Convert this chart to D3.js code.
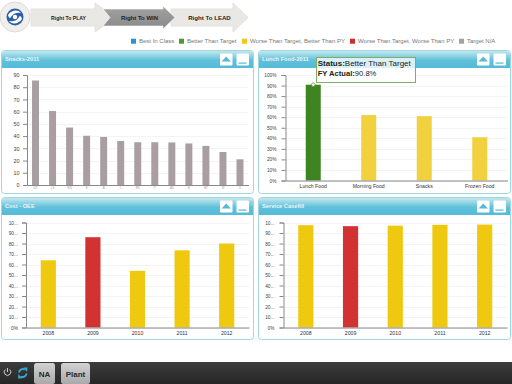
<!DOCTYPE html>
<html>
<head>
<meta charset="utf-8">
<script src="https://cdnjs.cloudflare.com/ajax/libs/d3/7.8.5/d3.min.js"></script>
<style>
html, body { margin: 0; padding: 0; background: #fff; overflow: hidden; }
text { font-family: "Liberation Sans", Arial, sans-serif; }
</style>
</head>
<body>
<script>
// chart values
var snackCats = ["GT", "LS", "WS", "E", "A", "I", "RS", "IT", "AS", "B", "MT", "W", "S"];
var snackVals = [85.5, 60.5, 47, 40.3, 39.3, 36, 35, 35, 34.8, 34, 32, 27, 21];
var snackTicks = [0, 10, 20, 30, 40, 50, 60, 70, 80, 90];
var lunchCats = ["Lunch Food", "Morning Food", "Snacks", "Frozen Food"];
var lunchVals = [90.8, 62, 61, 41];
var lunchColors = ["#3e8421", "#f2d13e", "#f2d13e", "#f2d13e"];
var pctTicks = [0, 10, 20, 30, 40, 50, 60, 70, 80, 90, 100];
var pctLabels = ["0%", "10%", "20%", "30%", "40%", "50%", "60%", "70%", "80%", "90%", "100%"];
var shortLabels = ["0%", "10...", "20...", "30...", "40...", "50...", "60...", "70...", "80...", "90...", "10..."];
var years = ["2008", "2009", "2010", "2011", "2012"];
var oeeVals = [64, 86, 54, 73.5, 80];
var caseVals = [97.5, 96.5, 97, 97.8, 98];
var yearColors = ["#efc90f", "#d13232", "#efc90f", "#efc90f", "#efc90f"];
var legendNames = ["Best In Class", "Better Than Target", "Worse Than Target, Better Than PY", "Worse Than Target, Worse Than PY", "Target N/A"];
var legendColors = ["#2f8fd8", "#4a9a2c", "#f0c814", "#d02c2c", "#a89fa2"];
var legendX = [131, 179, 242, 350, 459];
var steps = ["Right To PLAY", "Right To WIN", "Right To LEAD"];

var svg = d3.select("body").append("svg")
    .attr("width", 512).attr("height", 384)
    .style("display", "block");

var defs = svg.append("defs");
var headGrad = defs.append("linearGradient").attr("id", "head").attr("x2", 0).attr("y2", 1);
headGrad.append("stop").attr("offset", "0").attr("stop-color", "#c3e7ef");
headGrad.append("stop").attr("offset", "0.55").attr("stop-color", "#5fc0da");
headGrad.append("stop").attr("offset", "1").attr("stop-color", "#55bbd8");
var barGrad = defs.append("linearGradient").attr("id", "bottomBar").attr("x2", 0).attr("y2", 1);
barGrad.append("stop").attr("offset", "0").attr("stop-color", "#3d3d3d");
barGrad.append("stop").attr("offset", "1").attr("stop-color", "#262626");
var btnGrad = defs.append("linearGradient").attr("id", "btn").attr("x2", 0).attr("y2", 1);
btnGrad.append("stop").attr("offset", "0").attr("stop-color", "#d2d2d2");
btnGrad.append("stop").attr("offset", "1").attr("stop-color", "#a9a9a9");
var darkGrad = defs.append("linearGradient").attr("id", "darkArrow").attr("x2", 0).attr("y2", 1);
darkGrad.append("stop").attr("offset", "0").attr("stop-color", "#a2a2a2");
darkGrad.append("stop").attr("offset", "1").attr("stop-color", "#8a8a8a");

// top arrows
function arrow(x0, xHead, xTip, fill, stroke) {
  var pts = [[x0, 9], [xHead, 9], [xHead, 3], [xTip, 17.5], [xHead, 32], [xHead, 26], [x0, 26]];
  svg.append("path")
    .attr("d", "M" + pts.join("L") + "Z")
    .attr("fill", fill)
    .attr("stroke", stroke)
    .attr("stroke-width", 1);
}
arrow(31, 95, 115, "#e9e8e4", "#e2e1dd");
arrow(171, 233, 248, "#e9e8e4", "#e2e1dd");
svg.append("path")
    .attr("d", "M103,9L163,9L163,6L175,17.5L163,29L163,26L103,26L110,17.5Z")
    .attr("fill", "url(#darkArrow)")
    .attr("stroke", "#fff").attr("stroke-width", 0.6);
var stepX = [68.5, 139.5, 209.5];
var stepSize = [5.1, 6, 6.1];
svg.selectAll("text.step").data(steps).enter().append("text")
    .attr("class", "step")
    .attr("x", function(d, i) { return stepX[i]; })
    .attr("y", 19.8)
    .attr("text-anchor", "middle")
    .attr("font-size", function(d, i) { return stepSize[i]; })
    .attr("font-weight", "bold")
    .attr("fill", "#222")
    .text(function(d) { return d; });

// logo
svg.append("circle").attr("cx", 15).attr("cy", 17).attr("r", 15).attr("fill", "#f0efeb").attr("stroke", "#dddcd8");
svg.append("circle").attr("cx", 15).attr("cy", 17).attr("r", 8.5).attr("fill", "#2c5fa8");
svg.append("path").attr("d", "M8,15C11,10 18,9 21,13C18,12 13,13 11,17C10,19 9,18 8,15Z").attr("fill", "#fff");
svg.append("path").attr("d", "M22,19C19,24 12,25 9,21C13,22 17,21 19,17C20,15 21,16 22,19Z").attr("fill", "#fff");
svg.append("circle").attr("cx", 15).attr("cy", 17).attr("r", 2.2).attr("fill", "#fff");

// legend
legendNames.forEach(function(name, i) {
  svg.append("rect").attr("x", legendX[i]).attr("y", 38.7).attr("width", 5).attr("height", 5).attr("fill", legendColors[i]);
  svg.append("text").attr("x", legendX[i] + 8).attr("y", 43)
    .attr("font-size", 6).attr("fill", "#777").text(name);
});

function panel(o) {
  var g = svg.append("g");
  var w = o.x1 - o.x0, h = o.y1 - o.y0;
  g.append("rect").attr("x", o.x0 + 0.5).attr("y", o.y0 + 0.5).attr("width", w).attr("height", h).attr("rx", 3)
    .attr("fill", "#fff").attr("stroke", "#9ed8dc");
  g.append("path")
    .attr("d", "M" + (o.x0 + 1) + "," + (o.y0 + 18) + "V" + (o.y0 + 4) + "Q" + (o.x0 + 1) + "," + (o.y0 + 1) + " " + (o.x0 + 4) + "," + (o.y0 + 1)
      + "H" + (o.x1 - 3) + "Q" + o.x1 + "," + (o.y0 + 1) + " " + o.x1 + "," + (o.y0 + 4) + "V" + (o.y0 + 18) + "Z")
    .attr("fill", "url(#head)");
  g.append("text").attr("x", o.x0 + 4).attr("y", o.y0 + 11.2)
    .attr("font-size", 5.7).attr("font-weight", "bold").attr("fill", "#e8f6fa").text(o.title);
  // header buttons
  var bx = o.x1 - 33;
  g.append("rect").attr("x", bx).attr("y", o.y0 + 3.5).attr("width", 12.5).attr("height", 12).attr("rx", 1).attr("fill", "#fff");
  g.append("path").attr("d", "M" + (bx + 1.5) + "," + (o.y0 + 11.5) + "L" + (bx + 6.2) + "," + (o.y0 + 6.5) + "L" + (bx + 11) + "," + (o.y0 + 11.5) + "Z").attr("fill", "#5ab8d2");
  g.append("rect").attr("x", bx + 16.5).attr("y", o.y0 + 3.5).attr("width", 12.5).attr("height", 12).attr("rx", 1).attr("fill", "#fff");
  g.append("rect").attr("x", bx + 18.5).attr("y", o.y0 + 12.5).attr("width", 8).attr("height", 1.2).attr("fill", "#5ab8d2");

  var y = d3.scaleLinear().domain(o.domain).range([o.base, o.top]);
  var x = d3.scaleBand().domain(o.cats).range([o.left, o.right]).paddingInner(o.pad).paddingOuter(o.pad / 2);

  // grid lines
  g.selectAll("line.grid").data(o.ticks).enter().append("line")
    .attr("x1", o.left).attr("x2", o.right)
    .attr("y1", function(d) { return Math.round(y(d)) + 0.5; })
    .attr("y2", function(d) { return Math.round(y(d)) + 0.5; })
    .attr("stroke", "#f3f3f3");

  g.selectAll("rect.bar").data(o.vals).enter().append("rect")
    .attr("x", function(d, i) { return x(o.cats[i]); })
    .attr("width", x.bandwidth())
    .attr("y", function(d) { return y(d); })
    .attr("height", function(d) { return o.base - y(d); })
    .attr("fill", function(d, i) { return o.colors[i]; });

  var yAxis = d3.axisLeft(y).tickValues(o.ticks).tickSize(4).tickPadding(o.yPad)
    .tickFormat(function(d, i) { return o.labels[i]; });
  var ya = g.append("g").attr("transform", "translate(" + o.left + ",0)").call(yAxis);
  ya.selectAll("text").attr("font-size", o.ySize).attr("font-family", "Liberation Sans").attr("fill", "#444");
  ya.selectAll("line").attr("stroke", "#888");
  ya.select(".domain").attr("stroke", "#888");

  var xAxis = d3.axisBottom(x).tickSize(0).tickPadding(o.xPad);
  var xa = g.append("g").attr("transform", "translate(0," + o.base + ")").call(xAxis);
  xa.selectAll("text").attr("font-size", o.xSize).attr("font-family", "Liberation Sans").attr("fill", o.xColor);
  xa.select(".domain").attr("stroke", "#888");
  return { x: x, y: y, g: g };
}

panel({ x0: 1, x1: 253, y0: 50, y1: 193, title: "Snacks-2011", cats: snackCats, vals: snackVals,
  colors: snackVals.map(function() { return "#a99fa3"; }), domain: [0, 90], ticks: snackTicks,
  labels: snackTicks.map(String), left: 27, right: 248.5, base: 185, top: 75, pad: 0.59,
  ySize: 5.4, yPad: 3.5, xSize: 2.8, xPad: 2, xColor: "#999" });

var lunch = panel({ x0: 258, x1: 510, y0: 50, y1: 193, title: "Lunch Food-2011", cats: lunchCats, vals: lunchVals,
  colors: lunchColors, domain: [0, 100], ticks: pctTicks,
  labels: pctLabels, left: 285.5, right: 507.5, base: 180.5, top: 75, pad: 0.73,
  ySize: 4.8, yPad: 5, xSize: 5.2, xPad: 3.5, xColor: "#333" });

panel({ x0: 1, x1: 253, y0: 197, y1: 339, title: "Cost - OEE", cats: years, vals: oeeVals,
  colors: yearColors, domain: [0, 100], ticks: pctTicks,
  labels: shortLabels, left: 26, right: 249, base: 327.5, top: 222.5, pad: 0.66,
  ySize: 4.8, yPad: 4, xSize: 5.2, xPad: 3.5, xColor: "#333" });

panel({ x0: 258, x1: 510, y0: 197, y1: 339, title: "Service Casefill", cats: years, vals: caseVals,
  colors: yearColors, domain: [0, 100], ticks: pctTicks,
  labels: shortLabels, left: 283.5, right: 507, base: 327.5, top: 222.5, pad: 0.66,
  ySize: 4.8, yPad: 5, xSize: 5.2, xPad: 3.5, xColor: "#333" });

// tooltip on the lunch food bar
var tipX = lunch.x(lunchCats[0]) + lunch.x.bandwidth() / 2;
var tipY = lunch.y(lunchVals[0]);
svg.append("rect").attr("x", 316.5).attr("y", 57.5).attr("width", 99).attr("height", 25)
  .attr("fill", "#fff").attr("stroke", "#7fae62");
svg.append("rect").attr("x", 317).attr("y", 58).attr("width", 98).attr("height", 10).attr("fill", "#d9f0f6");
svg.append("circle").attr("cx", tipX).attr("cy", tipY).attr("r", 1.8)
  .attr("fill", "#fff").attr("stroke", "#5d9a3c").attr("stroke-width", 0.8);
var tip1 = svg.append("text").attr("x", 317.7).attr("y", 65.7).attr("font-size", 8).attr("fill", "#222");
tip1.append("tspan").attr("font-weight", "bold").text("Status:");
tip1.append("tspan").text("Better Than Target");
var tip2 = svg.append("text").attr("x", 317.7).attr("y", 75.5).attr("font-size", 7.6).attr("fill", "#222");
tip2.append("tspan").attr("font-weight", "bold").text("FY Actual:");
tip2.append("tspan").text("90.8%");

// bottom bar
svg.append("rect").attr("x", 0).attr("y", 362).attr("width", 512).attr("height", 22).attr("fill", "url(#bottomBar)");
svg.append("path").attr("d", "M5.3,369.6A3.3,3.3 0 1 0 9.7,369.6").attr("fill", "none").attr("stroke", "#ddd").attr("stroke-width", 0.9);
svg.append("line").attr("x1", 7.5).attr("x2", 7.5).attr("y1", 368).attr("y2", 372).attr("stroke", "#ddd").attr("stroke-width", 0.9);
svg.append("path").attr("d", "M19,372.5A4,4 0 0 1 25,369.5").attr("fill", "none").attr("stroke", "#3aa6cc").attr("stroke-width", 2);
svg.append("path").attr("d", "M23.5,367.5L27.5,367.5L27,372Z").attr("fill", "#3aa6cc");
svg.append("path").attr("d", "M26.5,373.5A4,4 0 0 1 20.5,376.5").attr("fill", "none").attr("stroke", "#3aa6cc").attr("stroke-width", 2);
svg.append("path").attr("d", "M22,378.5L18,378.5L18.5,374Z").attr("fill", "#3aa6cc");
var navX = [34, 61], navW = [21, 29], navLabels = ["NA", "Plant"];
navLabels.forEach(function(t, i) {
  svg.append("rect").attr("x", navX[i]).attr("y", 363).attr("width", navW[i]).attr("height", 21).attr("rx", 2.5).attr("fill", "url(#btn)");
  svg.append("text").attr("x", navX[i] + navW[i] / 2).attr("y", 376.5).attr("text-anchor", "middle")
    .attr("font-size", 8).attr("font-weight", "bold").attr("fill", "#2a2a2a").text(t);
});
</script>
</body>
</html>
